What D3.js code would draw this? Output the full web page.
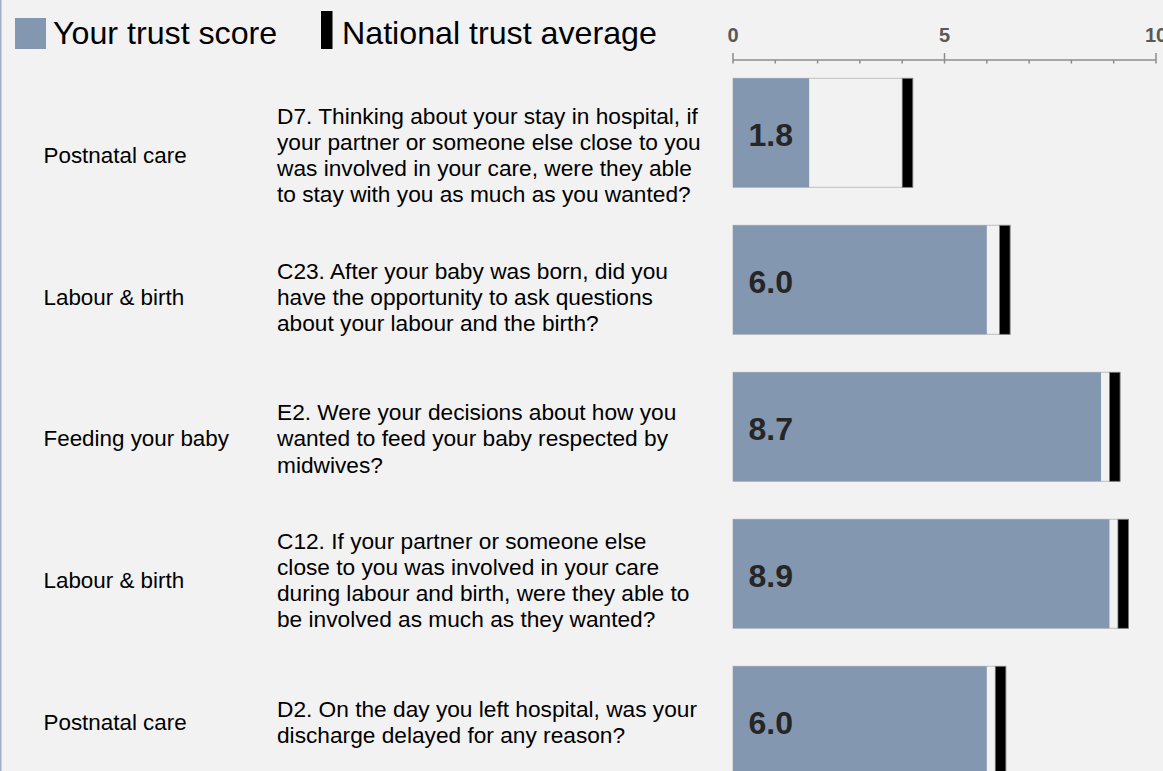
<!DOCTYPE html>
<html>
<head>
<meta charset="utf-8">
<script src="https://cdn.jsdelivr.net/npm/d3@7"></script>
<style>
  html, body { margin: 0; padding: 0; background: #f2f2f2; overflow: hidden; }
  svg { display: block; font-family: "Liberation Sans", Arial, sans-serif; }
</style>
</head>
<body>
<script>
// ---- data ----
const categories = ["Postnatal care", "Labour & birth", "Feeding your baby", "Labour & birth", "Postnatal care"];
const questions = [
  ["D7. Thinking about your stay in hospital, if", "your partner or someone else close to you", "was involved in your care, were they able", "to stay with you as much as you wanted?"],
  ["C23. After your baby was born, did you", "have the opportunity to ask questions", "about your labour and the birth?"],
  ["E2. Were your decisions about how you", "wanted to feed your baby respected by", "midwives?"],
  ["C12. If your partner or someone else", "close to you was involved in your care", "during labour and birth, were they able to", "be involved as much as they wanted?"],
  ["D2. On the day you left hospital, was your", "discharge delayed for any reason?"]
];
const trustScores = [1.8, 6.0, 8.7, 8.9, 6.0];
const nationalAverages = [4.0, 6.3, 8.9, 9.1, 6.2];
const majorTicks = [0, 5, 10];
const minorTicks = [1, 2, 3, 4, 6, 7, 8, 9];
const legendLabels = ["Your trust score", "National trust average"];

const W = 1163, H = 771;
const barColor = "#8497b0";

const svg = d3.select("body").append("svg").attr("width", W).attr("height", H);
svg.append("rect").attr("width", W).attr("height", H).attr("fill", "#f2f2f2");
svg.append("line").attr("x1", 0.75).attr("x2", 0.75).attr("y1", 0).attr("y2", H)
  .attr("stroke", "#9fb0c8").attr("stroke-width", 1.5);

const idx = d3.range(categories.length);
const x = d3.scaleLinear().domain([0, 10]).range([733, 1156]);
const yBar = d3.scaleBand().domain(idx).range([59.3, 59.3 + 147 * 5]).paddingInner(0.2585).paddingOuter(0.1293);
const yText = d3.scalePoint().domain(idx).range([155, 155 + 141.7 * 4]);

// ---- legend ----
svg.append("rect").attr("x", 15).attr("y", 18).attr("width", 31).attr("height", 31).attr("fill", barColor);
svg.append("text").attr("x", 53).attr("y", 43.5).attr("font-size", 32.2).attr("fill", "#000").text(legendLabels[0]);
svg.append("rect").attr("x", 321).attr("y", 11).attr("width", 11.5).attr("height", 38).attr("fill", "#000");
svg.append("text").attr("x", 342).attr("y", 43.5).attr("font-size", 32.2).attr("fill", "#000").text(legendLabels[1]);

// ---- axis ----
const axisY = 60;
const ax = svg.append("g");
ax.append("line").attr("x1", x(0)).attr("x2", x(10)).attr("y1", axisY).attr("y2", axisY)
  .attr("stroke", "#8c8c8c").attr("stroke-width", 1.5);
ax.selectAll("line.major").data(majorTicks).join("line").attr("class", "major")
  .attr("x1", d => x(d)).attr("x2", d => x(d)).attr("y1", axisY - 7).attr("y2", axisY + 3.5)
  .attr("stroke", "#8c8c8c").attr("stroke-width", 1.5);
ax.selectAll("line.minor").data(minorTicks).join("line").attr("class", "minor")
  .attr("x1", d => x(d)).attr("x2", d => x(d)).attr("y1", axisY).attr("y2", axisY + 3.5)
  .attr("stroke", "#8c8c8c").attr("stroke-width", 1.5);
ax.selectAll("text").data(majorTicks).join("text")
  .attr("x", d => x(d)).attr("y", 41.7).attr("text-anchor", "middle")
  .attr("font-size", 20).attr("font-weight", "bold").attr("fill", "#595959")
  .text(d => d);

// ---- rows ----
const markW = 0.25;
const rows = svg.selectAll("g.row").data(idx).join("g").attr("class", "row");

rows.append("rect")
  .attr("x", x(0)).attr("y", i => yBar(i))
  .attr("width", i => x(nationalAverages[i] + markW) - x(0)).attr("height", yBar.bandwidth())
  .attr("fill", "#f2f2f2").attr("stroke", "#bfbfbf").attr("stroke-width", 1);
rows.append("rect")
  .attr("x", x(0)).attr("y", i => yBar(i))
  .attr("width", i => x(trustScores[i]) - x(0)).attr("height", yBar.bandwidth())
  .attr("fill", barColor);
rows.append("rect")
  .attr("x", i => x(nationalAverages[i])).attr("y", i => yBar(i))
  .attr("width", x(markW) - x(0)).attr("height", yBar.bandwidth())
  .attr("fill", "#000").attr("stroke", "#7f7f7f").attr("stroke-width", 0.75);
rows.append("text")
  .attr("x", x(0) + 15.5).attr("y", i => yBar(i) + yBar.bandwidth() / 2 + 12.8)
  .attr("font-size", 32).attr("font-weight", "bold").attr("fill", "#262626")
  .text(i => trustScores[i].toFixed(1));

rows.append("text")
  .attr("x", 43.5).attr("y", i => yText(i) + 8)
  .attr("font-size", 22.4).attr("fill", "#000")
  .text(i => categories[i]);

const lh = 26.2;
rows.append("text")
  .attr("x", 277).attr("font-size", 22.7).attr("fill", "#000")
  .each(function(i) {
    const lines = questions[i];
    const n = lines.length;
    d3.select(this).selectAll("tspan").data(lines).join("tspan")
      .attr("x", 277)
      .attr("y", (l, k) => yText(i) + 8 + (k - (n - 1) / 2) * lh)
      .text(l => l);
  });
</script>
</body>
</html>
